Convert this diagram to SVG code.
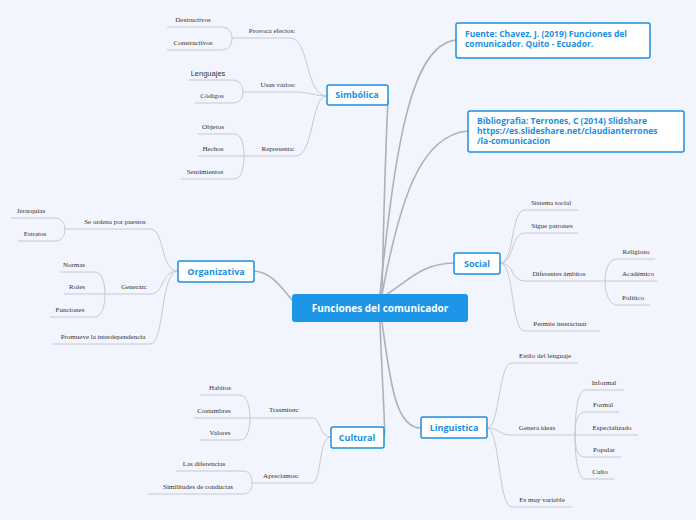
<svg xmlns="http://www.w3.org/2000/svg" width="696" height="520" viewBox="0 0 696 520">
<style>
.bg{fill:#f2f5fd}
.m{fill:none;stroke:#b0b0b8;stroke-width:1.6}
.s{fill:none;stroke:#c8c8d0;stroke-width:1}
.n{fill:#fff;stroke:#1d8fe1;stroke-width:1.5}
.nt{font-family:"Open Sans","DejaVu Sans",sans-serif;font-weight:bold;font-size:9px;fill:#1d8fe1;text-anchor:middle}
.bt{font-family:"Open Sans","DejaVu Sans",sans-serif;font-weight:bold;font-size:8.5px;fill:#1d8fe1}
.l{font-family:"Liberation Serif","DejaVu Serif",serif;font-size:7px;fill:#333;text-anchor:middle}
</style>
<rect class="bg" width="696" height="520"/>
<g id="connectors">
<path class="m" d="M382,294 C384,200 386,140 388,100"/>
<path class="m" d="M380,294 C395,150 410,45 456,40"/>
<path class="m" d="M382,294 C400,200 420,135 468,131"/>
<path class="m" d="M384,296 C410,280 420,264 454,263"/>
<path class="m" d="M382,322 C390,380 395,428 421,428"/>
<path class="m" d="M380,322 C382,380 386,437 384,437"/>
<path class="m" d="M292,300 C280,285 270,272 254,271"/>
<!-- Simbolica -->
<path class="s" d="M327,96 C305,96 310,38 290,38 H232"/>
<path class="s" d="M327,96 C315,96 310,92 295,92 H243"/>
<path class="s" d="M327,96 C310,96 315,156 295,156 H244"/>
<path class="s" d="M167,27 H220 C230,27 232,33 232,38 C232,44 230,50 220,50 H167"/>
<path class="s" d="M188,80 H232 C240,80 243,86 243,92 C243,98 240,103 232,103 H195"/>
<path class="s" d="M198,134 H234 C242,134 244,145 244,156 C244,167 242,179 234,179 H181 M198,156 H244"/>
<!-- Organizativa -->
<path class="s" d="M178,271 C160,271 165,229 150,229 H65"/>
<path class="s" d="M178,271 C160,271 165,294 150,294 H105"/>
<path class="s" d="M178,271 C160,271 165,344 150,344 H52"/>
<path class="s" d="M11,218 H55 C62,218 65,224 65,229 C65,235 62,241 55,241 H18"/>
<path class="s" d="M60,272 H95 C102,272 105,283 105,294 C105,305 102,317 95,317 H50 M64,294 H105"/>
<!-- Cultural -->
<path class="s" d="M331,437 C318,437 322,418 312,418 H250"/>
<path class="s" d="M331,437 C318,437 322,483 312,483 H252"/>
<path class="s" d="M200,395 H240 C247,395 250,407 250,418 C250,429 247,440 240,440 H200 M194,418 H250"/>
<path class="s" d="M176,471 H243 C250,471 252,477 252,483 C252,489 250,494 243,494 H148"/>
<!-- Social -->
<path class="s" d="M500,263 C515,263 510,210 525,210 H578"/>
<path class="s" d="M500,263 C515,263 510,233 525,233 H578"/>
<path class="s" d="M500,263 C515,263 510,281 525,281 H605"/>
<path class="s" d="M500,263 C515,263 510,331 525,331 H600"/>
<path class="s" d="M655,259 H617 C609,259 605,270 605,281 C605,292 609,305 617,305 H650 M605,281 H657"/>
<!-- Linguistica -->
<path class="s" d="M487,428 C500,428 498,363 512,363 H578"/>
<path class="s" d="M487,428 C500,428 498,435 512,435 H575"/>
<path class="s" d="M487,428 C500,428 498,507 512,507 H572"/>
<path class="s" d="M624,390 H585 C578,390 575,412 575,435 C575,458 578,479 585,479 H614 M575,435 C575,420 578,412 585,412 H619 M575,435 H638 M575,435 C575,450 578,457 585,457 H621"/>
</g>
<g id="center"><rect x="292" y="294" width="176" height="28" rx="3" fill="#1d96e8"/><text x="380" y="312" font-family="Open Sans, DejaVu Sans, sans-serif" font-weight="bold" font-size="10px" fill="#fff" text-anchor="middle">Funciones del comunicador</text></g>
<g id="simbolica"><rect class="n" x="327" y="85" width="61" height="20" rx="2"/><text class="nt" x="357" y="98">Simbólica</text>
<text class="l" x="193" y="22">Destructivos</text><text class="l" x="193" y="45">Constructivos</text><text class="l" x="272" y="33">Provoca efectos:</text>
<text x="208" y="76" font-family="Liberation Sans,sans-serif" font-size="7.5px" fill="#333" text-anchor="middle">Lenguajes</text><text class="l" x="212" y="98">Códigos</text><text class="l" x="278" y="87">Usan varios:</text>
<text class="l" x="213" y="129">Objetos</text><text class="l" x="213" y="151">Hechos</text><text class="l" x="205" y="174">Sentimientos</text><text class="l" x="278" y="151">Representa:</text></g>
<g id="organizativa"><rect class="n" x="178" y="261" width="76" height="21" rx="2"/><text class="nt" x="216" y="275">Organizativa</text>
<text class="l" x="31" y="213">Jerarquías</text><text class="l" x="35" y="236">Estratos</text><text class="l" x="115" y="224">Se ordena por puestos</text>
<text class="l" x="74" y="267">Normas</text><text class="l" x="77" y="289">Roles</text><text class="l" x="70" y="312">Funciones</text><text class="l" x="134" y="289">Generan:</text>
<text class="l" x="103" y="339">Promueve la interdependencia</text></g>
<g id="cultural"><rect class="n" x="331" y="427" width="53" height="21" rx="2"/><text class="nt" x="357" y="441">Cultural</text>
<text class="l" x="220" y="390">Habitos</text><text class="l" x="214" y="413">Costumbres</text><text class="l" x="220" y="435">Valores</text><text class="l" x="284" y="412">Trasmiten:</text>
<text class="l" x="204" y="466">Las diferencias</text><text class="l" x="198" y="489">Similitudes de conductas</text><text class="l" x="281" y="478">Apreciamos:</text></g>
<g id="social"><rect class="n" x="454" y="253" width="46" height="21" rx="2"/><text class="nt" x="477" y="267">Social</text>
<text class="l" x="551" y="205">Sistema social</text><text class="l" x="552" y="228">Sigue patrones</text><text class="l" x="559" y="276">Diferentes ámbitos</text><text class="l" x="560" y="326">Permite  interactuar</text>
<text class="l" x="636" y="254">Religioso</text><text class="l" x="638" y="276">Académico</text><text class="l" x="633" y="300">Político</text></g>
<g id="linguistica"><rect class="n" x="421" y="417" width="66" height="21" rx="2"/><text class="nt" x="454" y="431">Linguistica</text>
<text class="l" x="545" y="358">Estilo del lenguaje</text><text class="l" x="537" y="430">Genera ideas</text><text class="l" x="542" y="502">Es muy variable</text>
<text class="l" x="604" y="385">Informal</text><text class="l" x="603" y="407">Formal</text><text class="l" x="612" y="430">Especializado</text><text class="l" x="604" y="452">Popular</text><text class="l" x="600" y="474">Culto</text></g>
<g id="fuente"><rect class="n" x="456" y="23" width="194" height="35" rx="2"/><text class="bt" x="465" y="37">Fuente: Chavez, J. (2019) Funciones del</text><text class="bt" x="465" y="47">comunicador. Quito - Ecuador.</text></g>
<g id="bibliografia"><rect class="n" x="468" y="111" width="216" height="41" rx="2"/><text class="bt" x="477" y="124">Bibliografia: Terrones, C (2014) Slidshare</text><text class="bt" x="477" y="134">https://es.slideshare.net/claudianterrones</text><text class="bt" x="477" y="144">/la-comunicacion</text></g>
</svg>
